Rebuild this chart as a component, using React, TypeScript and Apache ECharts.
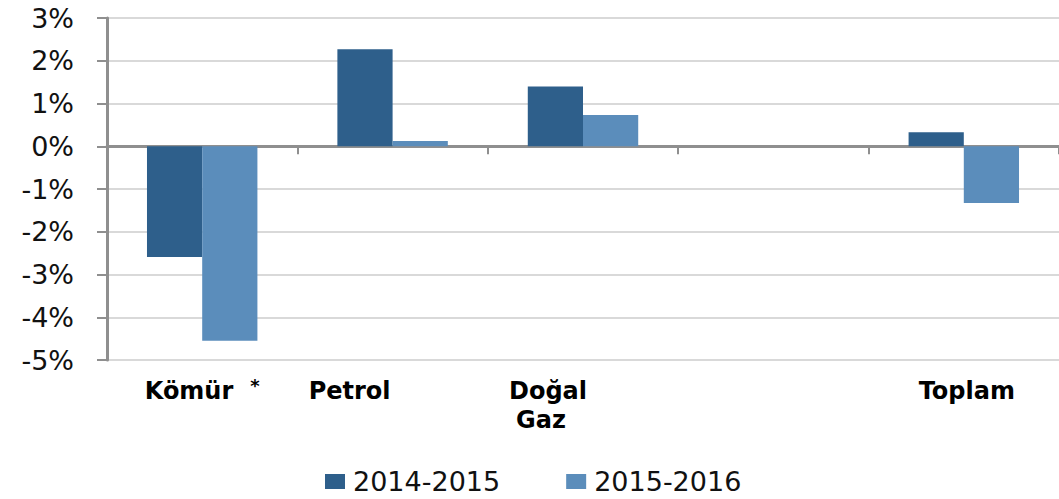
import React, { useEffect, useRef } from "react";
import * as echarts from "echarts";

const categories = ["Kömür", "Petrol", "Doğal Gaz", "", "Toplam"];
const series2014_2015 = [-2.59, 2.27, 1.4, null, 0.33];
const series2015_2016 = [-4.55, 0.12, 0.73, null, -1.33];
const seriesNames = ["2014-2015", "2015-2016"];
const yTicks = { min: -5, max: 3, interval: 1 };

const DARK = "#2E5F8B";
const LIGHT = "#5B8DBB";

export default function App() {
  const ref = useRef<HTMLDivElement>(null);
  useEffect(() => {
    document.body.style.margin = "0";
    const chart = echarts.init(ref.current!, null, { renderer: "svg" });
    const lbl = { fontFamily: "DejaVu Sans", fontWeight: "bold", fontSize: 24, color: "#000", lineHeight: 29 };
    chart.setOption({
      animation: false,
      grid: { left: 107, right: 0, top: 18, bottom: 139, containLabel: false },
      legend: {
        data: seriesNames,
        left: 325,
        top: 468,
        padding: 0,
        itemWidth: 20,
        itemHeight: 15,
        itemGap: 66,
        icon: "rect",
        textStyle: { fontFamily: "DejaVu Sans", fontSize: 27, color: "#111", padding: [0, 0, 0, 3] },
      },
      xAxis: [
        {
          type: "category",
          data: categories,
          position: "bottom",
          axisLine: { onZero: true, lineStyle: { color: "#8f8f8f", width: 3 } },
          axisTick: { show: true, length: 8, lineStyle: { color: "#8f8f8f", width: 2 } },
          axisLabel: { show: false },
          splitLine: { show: false },
        },
        {
          type: "category",
          data: categories,
          position: "bottom",
          axisLine: { show: false, onZero: false },
          axisTick: { show: false },
          splitLine: { show: false },
          axisLabel: {
            show: true,
            interval: 0,
            margin: 16,
            formatter: (v: string) => {
              if (v === "Kömür") return "{b|Kömür}{s|*}";
              if (v === "Petrol") return "{p|Petrol}";
              if (v === "Doğal Gaz") return "{d1|Doğal}\n{d2|Gaz}";
              if (v === "Toplam") return "{t|Toplam}";
              return "";
            },
            rich: {
              b: { ...lbl },
              s: { ...lbl, fontSize: 18, verticalAlign: "top", padding: [0, 0, 12, 17] },
              p: { ...lbl, padding: [0, 86, 0, 0] },
              d1: { ...lbl, padding: [0, 70, 0, 0] },
              d2: { ...lbl, padding: [0, 84, 0, 0] },
              t: { ...lbl, padding: [0, 0, 0, 6] },
            },
          },
        },
      ],
      yAxis: {
        type: "value",
        min: yTicks.min,
        max: yTicks.max,
        interval: yTicks.interval,
        axisLine: { show: true, lineStyle: { color: "#8f8f8f", width: 3 } },
        axisTick: { show: true, length: 10, lineStyle: { color: "#8f8f8f", width: 2 } },
        axisLabel: {
          margin: 33,
          formatter: (v: number) => `${v}%`,
          fontFamily: "DejaVu Sans",
          fontSize: 27,
          color: "#111",
        },
        splitLine: { show: true, lineStyle: { color: "#d9d9d9", width: 2 } },
      },
      series: [
        {
          name: seriesNames[0],
          type: "bar",
          xAxisIndex: 0,
          data: series2014_2015,
          barWidth: "29%",
          barGap: "0%",
          itemStyle: { color: DARK },
        },
        {
          name: seriesNames[1],
          type: "bar",
          xAxisIndex: 0,
          data: series2015_2016,
          barWidth: "29%",
          barGap: "0%",
          itemStyle: { color: LIGHT },
        },
      ],
    });
    return () => chart.dispose();
  }, []);
  return <div ref={ref} style={{ width: 1059, height: 499 }} />;
}
